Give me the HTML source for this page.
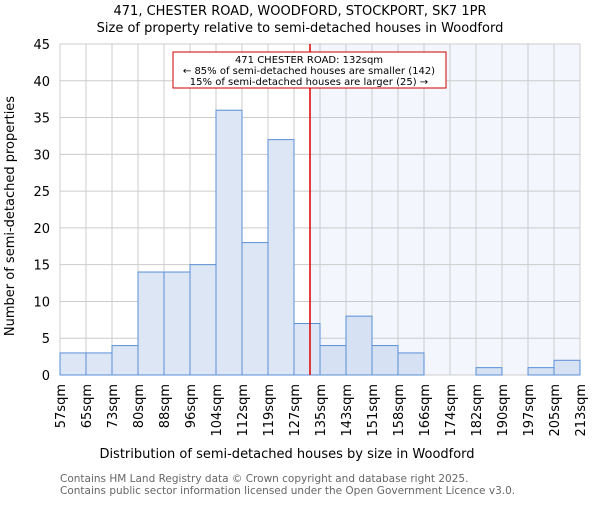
<!DOCTYPE html>
<html><head><meta charset="utf-8"><style>body{margin:0;background:#fff}svg{font-family:"DejaVu Sans","Liberation Sans",sans-serif}</style></head>
<body>
<svg id="c" width="600" height="500" xmlns="http://www.w3.org/2000/svg">
<text x="300" y="15" font-size="13" text-anchor="middle">471, CHESTER ROAD, WOODFORD, STOCKPORT, SK7 1PR</text>
<text x="300" y="32" font-size="13" text-anchor="middle">Size of property relative to semi-detached houses in Woodford</text>
<g id="plot"></g>
<text x="287" y="458" font-size="13" text-anchor="middle">Distribution of semi-detached houses by size in Woodford</text>
<text x="14" y="216" font-size="13" text-anchor="middle" transform="rotate(-90 14 216)">Number of semi-detached properties</text>
<text x="60" y="482" font-size="10.5" fill="#666">Contains HM Land Registry data © Crown copyright and database right 2025.</text>
<text x="60" y="494" font-size="10.5" fill="#666">Contains public sector information licensed under the Open Government Licence v3.0.</text>
</svg>
<script>
const binLabels=["57sqm","65sqm","73sqm","80sqm","88sqm","96sqm","104sqm","112sqm","119sqm","127sqm","135sqm","143sqm","151sqm","158sqm","166sqm","174sqm","182sqm","190sqm","197sqm","205sqm","213sqm"];
const counts=[3,3,4,14,14,15,36,18,32,7,4,8,4,3,0,0,1,0,1,2];
const yTicks=[0,5,10,15,20,25,30,35,40,45];
const xMin=57,xMax=213,propertySize=132;
const L=60,R=580,T=44,B=375,yMax=45;
const NS="http://www.w3.org/2000/svg";
const g=document.getElementById('plot');
const n=counts.length,bw=(R-L)/n;
const xb=i=>L+i*bw, xv=v=>L+(v-xMin)/(xMax-xMin)*(R-L), y=v=>B-v/yMax*(B-T);
function mk(t,a,p){const e=document.createElementNS(NS,t);for(const k in a)e.setAttribute(k,a[k]);(p||g).appendChild(e);return e;}
const px=xv(propertySize);
const sh=mk('rect',{x:px,y:T,width:R-px,height:B-T,fill:'#f3f6fd'});


yTicks.forEach(t=>{
  mk('line',{x1:L,x2:R,y1:y(t),y2:y(t),stroke:'#ccc','stroke-width':1});
  const tx=mk('text',{x:L-10,y:y(t)+5,'font-size':13,'text-anchor':'end'});tx.textContent=t;
  
  
});
binLabels.forEach((lb,i)=>{
  const x=xb(i);
  mk('line',{x1:x,x2:x,y1:T,y2:B,stroke:'#ccc','stroke-width':1});
  const tx=mk('text',{x:x+5,y:384,'font-size':13,'text-anchor':'end',transform:`rotate(-90 ${x+5} 384)`});tx.textContent=lb;
  
  
});
counts.forEach((c,i)=>{
  if(c<=0)return;
  const r=mk('rect',{x:xb(i),y:y(c),width:bw,height:B-y(c),fill:xb(i)>=px?'#d6e1f3':'#dce6f4',stroke:'#5b8fd6','stroke-width':1});
  
  
});
const ln=mk('line',{x1:px,x2:px,y1:T,y2:B,stroke:'#d00','stroke-width':1.5});


const box=mk('rect',{x:173,y:52,width:273,height:36,fill:'#fff',stroke:'#c00','stroke-width':1});


["471 CHESTER ROAD: 132sqm","← 85% of semi-detached houses are smaller (142)","15% of semi-detached houses are larger (25) →"].forEach((s,i)=>{
  const t=mk('text',{x:309,y:63+i*11,'font-size':10,'text-anchor':'middle'});t.textContent=s;
  
  
});
</script>
</body></html>
